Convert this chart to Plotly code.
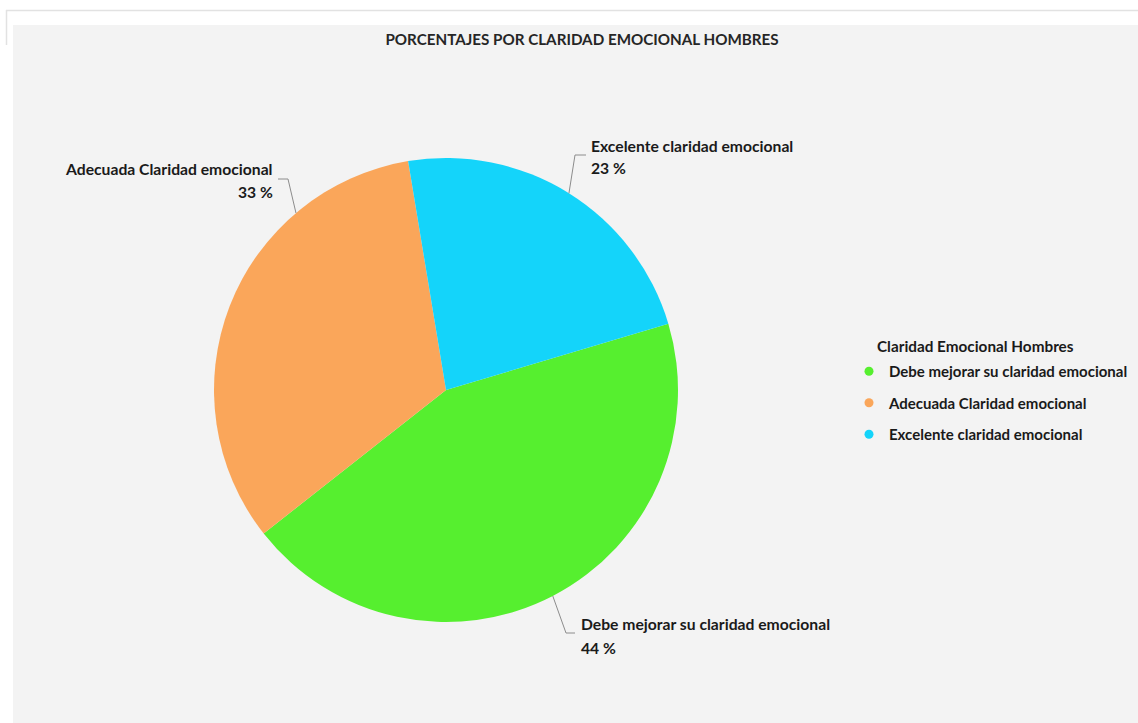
import math
import plotly.graph_objects as go

# Category names, shares (%) and slice colours
categorias = [
    "Debe mejorar su claridad emocional",
    "Adecuada Claridad emocional",
    "Excelente claridad emocional",
]
porcentajes = [44, 33, 23]
colores = ["#56EF2F", "#FAA65A", "#14D4FA"]

titulo = "PORCENTAJES POR CLARIDAD EMOCIONAL HOMBRES"
titulo_leyenda = "Claridad Emocional Hombres"

W, H = 1138, 723
FONT = "Lato"
TXT = "#1a1a1a"

# pie geometry (pixels)
cx, cy, r = 446, 390, 232
rotacion = 73.4  # start angle of the first slice, clockwise from 12 o'clock


def px(x):
    return x / W


def py(y):
    return 1 - y / H


fig = go.Figure()

fig.add_trace(go.Pie(
    labels=categorias,
    values=porcentajes,
    marker=dict(colors=colores, line=dict(width=0)),
    sort=False,
    direction="clockwise",
    rotation=rotacion,
    textinfo="none",
    hoverinfo="label+percent",
    showlegend=False,
    domain=dict(x=[px(cx - r), px(cx + r)], y=[py(cy + r), py(cy - r)]),
))

# legend entries with round markers
for i, (nombre, col) in enumerate(zip(categorias, colores)):
    fig.add_trace(go.Scatter(
        x=[None], y=[None], mode="markers", name=nombre,
        marker=dict(color=col, size=9, symbol="circle"),
        legendgroup=f"g{i}", showlegend=True, hoverinfo="skip",
    ))

# outside labels with two-segment leader lines
total = sum(porcentajes)
anclas = [0.5, 0.74, 0.5]          # where along each slice the leader touches
codos = [(566, 633), (288, 179), (575, 155)]   # knee of each leader line
fines = [(575, 633), (278, 179), (586, 155)]   # end of the horizontal part
textos = [
    dict(x=579, y1=624, y2=648, anchor="left"),
    dict(x=275, y1=169, y2=192, anchor="right"),
    dict(x=589, y1=146, y2=168, anchor="left"),
]

shapes = [
    # panel background
    dict(type="rect", xref="paper", yref="paper", layer="below",
         x0=px(13), x1=1, y0=0, y1=py(25),
         fillcolor="#F3F3F3", line=dict(width=0)),
    # thin frame line along the top and upper left
    dict(type="line", xref="paper", yref="paper", layer="below",
         x0=px(6), x1=1, y0=py(10.5), y1=py(10.5),
         line=dict(color="#E2E2E2", width=1.5)),
    dict(type="line", xref="paper", yref="paper", layer="below",
         x0=px(6.5), x1=px(6.5), y0=py(10), y1=py(45),
         line=dict(color="#E2E2E2", width=1.5)),
]
annotations = []

inicio = rotacion
for i, v in enumerate(porcentajes):
    ang = math.radians(inicio + 360 * v / total * anclas[i])
    inicio += 360 * v / total
    ex = cx + r * math.sin(ang)
    ey = cy - r * math.cos(ang)
    kx, ky = codos[i]
    fx, fy = fines[i]
    shapes.append(dict(
        type="path", xref="paper", yref="paper",
        path=f"M {px(ex)},{py(ey)} L {px(kx)},{py(ky)} L {px(fx)},{py(fy)}",
        line=dict(color="#8C8C8C", width=1),
    ))
    t = textos[i]
    for yy, txt in ((t["y1"], categorias[i]), (t["y2"], f"{v} %")):
        annotations.append(dict(
            xref="paper", yref="paper", x=px(t["x"]), y=py(yy),
            xanchor=t["anchor"], yanchor="middle", showarrow=False,
            text=txt, align=t["anchor"],
            font=dict(family=FONT, size=15.7, color=TXT, weight="bold"),
        ))

# legend heading
annotations.append(dict(
    xref="paper", yref="paper", x=px(875), y=py(346),
    xanchor="left", yanchor="middle", showarrow=False,
    text=titulo_leyenda,
    font=dict(family=FONT, size=15.3, color=TXT, weight="bold"),
))

fig.update_layout(
    width=W, height=H,
    margin=dict(l=0, r=0, t=0, b=0),
    paper_bgcolor="white",
    plot_bgcolor="rgba(0,0,0,0)",
    title=dict(
        text=titulo, x=px(582), y=py(40), xanchor="center", yanchor="middle",
        font=dict(family=FONT, size=15.2, color="#262626", weight="bold"),
    ),
    xaxis=dict(visible=False, range=[0, 1], fixedrange=True),
    yaxis=dict(visible=False, range=[0, 1], fixedrange=True),
    legend=dict(
        x=px(849), y=py(355), xanchor="left", yanchor="top",
        bgcolor="rgba(0,0,0,0)", traceorder="grouped", tracegroupgap=9,
        font=dict(family=FONT, size=15, color=TXT, weight="bold"),
        itemclick=False, itemdoubleclick=False,
    ),
    shapes=shapes,
    annotations=annotations,
    showlegend=True,
)

fig.write_html("out.html")
